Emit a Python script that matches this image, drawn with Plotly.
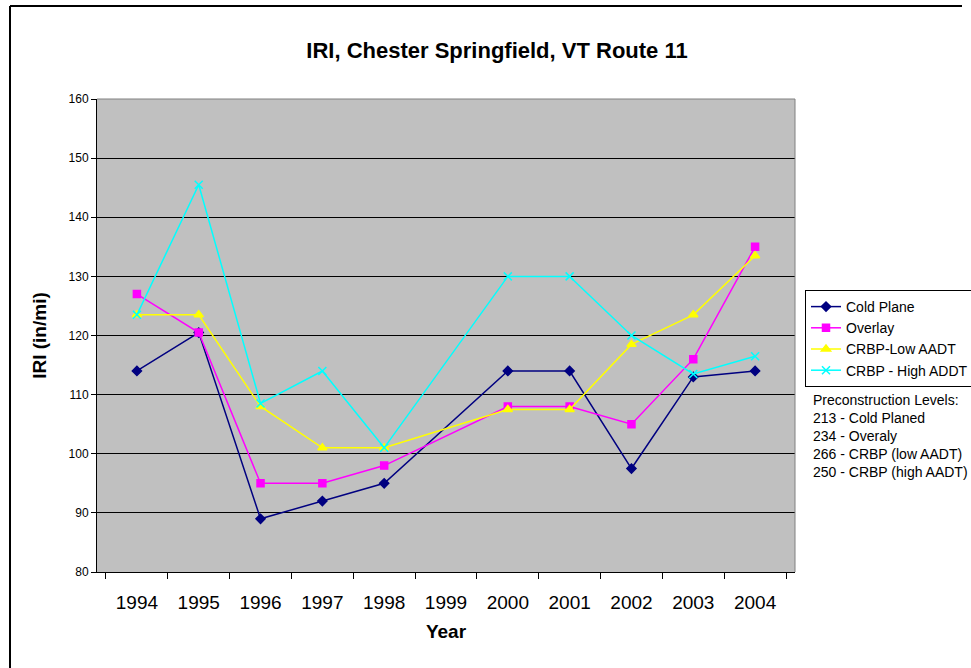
import plotly.graph_objects as go

years = ["1994", "1995", "1996", "1997", "1998", "1999", "2000", "2001", "2002", "2003", "2004"]
cold_plane = [114, 120.5, 89, 92, 95, None, 114, 114, 97.5, 113, 114]
overlay = [127, 120.5, 95, 95, 98, None, 108, 108, 105, 116, 135]
crbp_low = [123.5, 123.5, 108, 101, 101, None, 107.5, 107.5, 118.5, 123.5, 133.5]
crbp_high = [123.5, 145.5, 108.5, 114, 101, None, 130, 130, 120, 113.5, 116.5]

note_lines = ["Preconstruction Levels:", "213 - Cold Planed", "234 - Overaly",
              "266 - CRBP (low AADT)", "250 - CRBP (high AADT)"]

series = [
    ("Cold Plane", cold_plane, "#000080", "diamond", 7),
    ("Overlay", overlay, "#FF00FF", "square", 7),
    ("CRBP-Low AADT", crbp_low, "#FFFF00", "triangle-up", 8),
    ("CRBP - High ADDT", crbp_high, "#00FFFF", "x-thin-open", 8),
]

W, H = 971, 668
L, R, T, B = 97, 795, 99, 572
pw, ph = R - L, B - T

def px(x):
    return (x - L) / pw

def py(y):
    return (B - y) / ph

fig = go.Figure()
for name, vals, color, sym, size in series:
    fig.add_trace(go.Scatter(
        x=years, y=vals, name=name, mode="lines+markers", connectgaps=True,
        line=dict(color=color, width=1.5),
        marker=dict(symbol=sym, size=size, color=color,
                    line=dict(color=color, width=1.5)),
    ))

fig.update_layout(
    width=W, height=H,
    margin=dict(l=L, r=W - R, t=T, b=H - B, autoexpand=False),
    paper_bgcolor="white", plot_bgcolor="#C0C0C0",
    font=dict(family="Liberation Sans, Arial, sans-serif", color="black"),
    title=dict(text="<b>IRI, Chester Springfield, VT Route 11</b>",
               x=497 / W, xanchor="center", xref="container",
               y=1 - 50 / H, yanchor="middle",
               font=dict(size=22)),
    showlegend=True,
    legend=dict(xref="container", yref="container",
                x=805 / W, y=1 - 290 / H, xanchor="left", yanchor="top",
                bordercolor="black", borderwidth=1, bgcolor="white",
                font=dict(size=14), tracegroupgap=0, itemwidth=30),
    xaxis=dict(type="category", categoryorder="array", categoryarray=years,
               showline=True, linecolor="black", linewidth=1, mirror=False,
               ticks="outside", tickson="boundaries", ticklen=6, tickcolor="black",
               showgrid=False, tickfont=dict(size=19), automargin=False,
               ticklabelstandoff=13,
               title=dict(text="<b>Year</b>", font=dict(size=19), standoff=12)),
    yaxis=dict(range=[80, 160], dtick=10, showline=True, linecolor="black",
               linewidth=1, ticks="outside", ticklen=5, tickcolor="black",
               showgrid=True, gridcolor="black", gridwidth=1, automargin=False,
               tickfont=dict(size=12), zeroline=False,
               title=dict(text="<b>IRI (in/mi)</b>", font=dict(size=19), standoff=16)),
)

# plot area top/right border (gray)
fig.add_shape(type="line", xref="paper", yref="paper", x0=0, x1=1, y0=1, y1=1,
              line=dict(color="#808080", width=1))
fig.add_shape(type="line", xref="paper", yref="paper", x0=1, x1=1, y0=0, y1=1,
              line=dict(color="#808080", width=1))
# outer chart border (top and left edges visible)
fig.add_shape(type="line", xref="paper", yref="paper",
              x0=px(10), x1=px(10), y0=py(H + 2), y1=py(6),
              line=dict(color="black", width=2))
fig.add_shape(type="line", xref="paper", yref="paper",
              x0=px(10), x1=px(962), y0=py(6), y1=py(6),
              line=dict(color="black", width=2))

for i, line in enumerate(note_lines):
    fig.add_annotation(
        xref="paper", yref="paper", x=px(811), y=py(400 + 18 * i),
        xanchor="left", yanchor="middle", align="left", showarrow=False,
        text=line, font=dict(size=14),
    )

fig.write_html("out.html", config={"displayModeBar": False},
               post_script="document.body.style.margin='0';")
